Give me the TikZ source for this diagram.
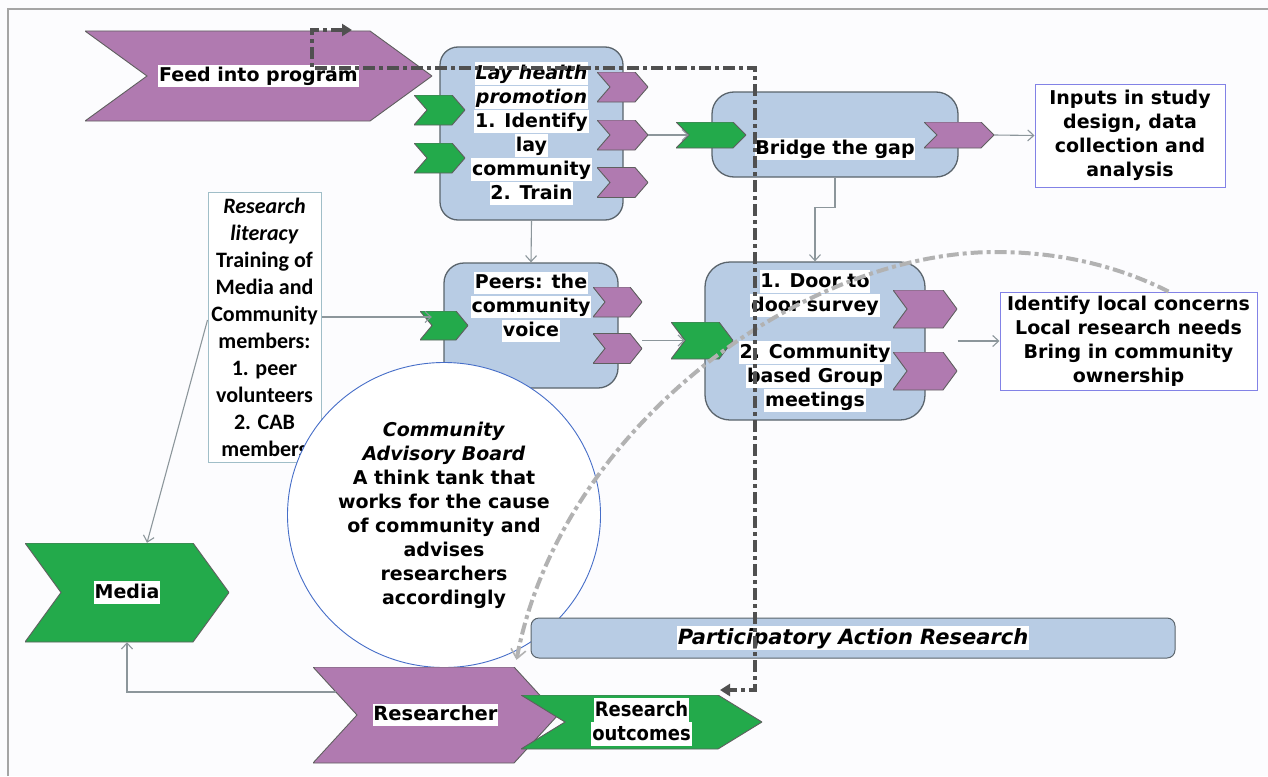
\documentclass[tikz,border=0pt]{standalone}
\usepackage{fontspec}
\setmainfont{DejaVu Sans}
\newfontfamily\calfont{Carlito}
\newfontfamily\condfont{DejaVu Sans Condensed}
\usetikzlibrary{arrows.meta,shapes.geometric}

\definecolor{bgc}{RGB}{252,252,254}
\definecolor{framec}{RGB}{165,165,165}
\definecolor{purp}{RGB}{176,122,176}
\definecolor{grn}{RGB}{35,170,75}
\definecolor{boxfill}{RGB}{184,204,228}
\definecolor{boxline}{RGB}{90,100,108}
\definecolor{chvedge}{RGB}{95,95,95}
\definecolor{arrgray}{RGB}{140,150,155}
\definecolor{dashdark}{RGB}{80,80,80}
\definecolor{curvegray}{RGB}{178,178,178}
\definecolor{wline}{RGB}{130,130,230}
\definecolor{litline}{RGB}{160,190,200}
\definecolor{cabblue}{RGB}{70,110,200}

% white band behind a line of text
\newcommand\hl[1]{{\setlength\fboxsep{0.8pt}\colorbox{white}{\rule[-.24em]{0pt}{1.08em}#1}}}
\newcommand\mfont{\fontsize{19}{24}\selectfont\bfseries}

\tikzset{
  chv fill/.store in=\chvfill, chv fill=purp,
  chv d/.store in=\chvd, chv d=12pt,
  chv/.style={rectangle, inner sep=0pt, font=\mfont, align=center,
    path picture={\filldraw[fill=\chvfill, draw=chvedge, line width=0.9pt]
      (path picture bounding box.north west)
      -- ([xshift=-\chvd]path picture bounding box.north east)
      -- (path picture bounding box.east)
      -- ([xshift=-\chvd]path picture bounding box.south east)
      -- (path picture bounding box.south west)
      -- ([xshift=\chvd]path picture bounding box.west) -- cycle;}},
  pbox/.style={draw=boxline, fill=boxfill, line width=1.3pt, inner sep=0pt,
    font=\mfont, align=center},
  wbox/.style={draw=wline, fill=white, line width=1pt, inner sep=0pt,
    font=\mfont, align=center},
  txt/.style={inner sep=0pt, font=\mfont, align=center},
  arr/.style={draw=arrgray, line width=1.1pt, -{Straight Barb[length=6pt,width=11pt]}},
  fbpath/.style={draw=dashdark, line width=4pt,
    dash pattern=on 12pt off 4pt on 4pt off 4pt,
    {Triangle[length=10pt,width=12pt]}-{Triangle[length=10pt,width=12pt]}},
  advpath/.style={draw=curvegray, line width=4pt,
    dash pattern=on 12pt off 4pt on 4pt off 4pt,
    -{Straight Barb[length=9pt,width=15pt,line width=1.6pt]}},
}

\begin{document}
\begin{tikzpicture}[x=1pt,y=-1pt]
\useasboundingbox (0,0) rectangle (1268,776);
\fill[bgc] (0,0) rectangle (1268,776);
\draw[framec, line width=2pt] (8,776) -- (8,9) -- (1268,9);

% input to the programme
\node[chv, chv fill=purp, chv d=62pt, minimum width=347, minimum height=90]
  (feed) at (258.5,76) {\hl{Feed into program}};

% lay health promotion
\node[pbox, rounded corners=18pt, minimum width=183, minimum height=173] (lay) at (531.5,133.5)
  {\hl{\textit{Lay health}}\\ \hl{\textit{promotion}}\\ \hl{1. Identify}\\ \hl{lay}\\ \hl{community}\\ \hl{2. Train}};
\node[chv, chv fill=grn, chv d=13pt, minimum width=51, minimum height=30] (lg1) at (439.5,110) {};
\node[chv, chv fill=grn, chv d=13pt, minimum width=51, minimum height=30] (lg2) at (439.5,158) {};
\node[chv, chv fill=purp, chv d=13pt, minimum width=51, minimum height=30] (lp1) at (622.5,87) {};
\node[chv, chv fill=purp, chv d=13pt, minimum width=51, minimum height=30] (lp2) at (622.5,135) {};
\node[chv, chv fill=purp, chv d=13pt, minimum width=51, minimum height=30] (lp3) at (622.5,182.5) {};

% bridge the gap
\node[pbox, rounded corners=22pt, minimum width=246, minimum height=85] (bridge) at (835,134.5) {};
\node[txt] (bridgetxt) at ([yshift=-14.5pt]bridge.center) {\hl{Bridge the gap}};
\node[chv, chv fill=grn, chv d=13pt, minimum width=70, minimum height=26] (bg) at (711,135) {};
\node[chv, chv fill=purp, chv d=13pt, minimum width=70, minimum height=26] (bp) at (959,135) {};

\node[wbox, minimum width=190, minimum height=103] (inputs) at (1130,135.5)
  {Inputs in study\\ design, data\\ collection and\\ analysis};

% research literacy
\node[draw=litline, fill=white, line width=1pt, inner sep=0pt, align=center,
  font={\calfont\fontsize{22}{27}\selectfont\bfseries},
  minimum width=113, minimum height=270] (lit) at (264.5,327)
  {\textit{Research}\\ \textit{literacy}\\ Training of\\ Media and\\ Community\\ members:\\ 1. peer\\ volunteers\\ 2. CAB\\ members};

% peers
\node[pbox, rounded corners=20pt, minimum width=174, minimum height=125] (peers) at (531,325.5) {};
\node[txt] (peerstxt) at ([yshift=18.5pt]peers.center) {\hl{Peers: the}\\ \hl{community}\\ \hl{voice}};
\node[chv, chv fill=grn, chv d=12pt, minimum width=48, minimum height=29] (pg) at (444,325.5) {};
\node[chv, chv fill=purp, chv d=12pt, minimum width=49, minimum height=30] (pp1) at (617.5,302) {};
\node[chv, chv fill=purp, chv d=12pt, minimum width=49, minimum height=30] (pp2) at (617.5,348.5) {};

% survey and meetings
\node[pbox, rounded corners=25pt, minimum width=220, minimum height=158] (door) at (815,341)
  {\hl{1. Door to}\\ \hl{door survey}\\[23pt] \hl{2. Community}\\ \hl{based Group}\\ \hl{meetings}};
\node[chv, chv fill=grn, chv d=14pt, minimum width=62, minimum height=37] (dg) at (702,340.5) {};
\node[chv, chv fill=purp, chv d=14pt, minimum width=64, minimum height=38] (dp1) at (925,309) {};
\node[chv, chv fill=purp, chv d=14pt, minimum width=64, minimum height=38] (dp2) at (925,371) {};

\node[wbox, minimum width=257, minimum height=98] (ident) at (1128.5,341)
  {Identify local concerns\\ Local research needs\\ Bring in community\\ ownership};

% community advisory board
\node[ellipse, draw=cabblue, fill=white, line width=0.9pt, inner sep=0pt, align=center,
  font=\mfont, minimum width=313, minimum height=305] (cab) at (444,515)
  {\textit{Community}\\ \textit{Advisory Board}\\ A think tank that\\ works for the cause\\ of community and\\ advises\\ researchers\\ accordingly};

\node[pbox, line width=1pt, rounded corners=8pt, minimum width=644, minimum height=40,
  font={\fontsize{21}{26}\selectfont\bfseries\itshape}] (par) at (853,638)
  {\hl{Participatory Action Research}};

% media, researcher and outcomes
\node[chv, chv fill=grn, chv d=36pt, minimum width=204, minimum height=99] (media) at (127,592.5) {\hl{Media}};
\node[chv, chv fill=purp, chv d=44pt, minimum width=245, minimum height=96,
  font={\fontsize{19.5}{24}\selectfont\bfseries}] (res) at (435.5,715) {\hl{Researcher}};
\node[chv, chv fill=grn, chv d=44pt, minimum width=241, minimum height=54,
  font={\condfont\fontsize{20}{24}\selectfont\bfseries}] (out) at (641.5,722)
  {\hl{Research}\\ \hl{outcomes}};

% connectors
\draw[arr] (lay.south) -- (peers.north);
\draw[arr] (lp2.east) -- ([xshift=13pt]bg.west);
\draw[arr] (bp.east) -- (inputs.west);
\draw[arr] (bridge.south) -- ++(0,30) -| (door.north);
\coordinate (lito) at ([yshift=10pt]lit.east);
\coordinate (pgn) at ([xshift=12pt]pg.west);
\draw[arr] (lito) -- (lito -| pgn);
\coordinate (dgn) at ([xshift=14pt]dg.west);
\draw[arr] (pp2.east |- dg.west) -- (dgn);
\draw[arr] ([xshift=32pt]door.east) -- (ident.west);
\draw[arr] ([yshift=7pt]lit.west) -- ([xshift=20pt]media.north);
\coordinate (resl) at ([xshift=23pt,yshift=23pt]res.west);
\draw[arr] (resl) -| (media.south);

% advice loop back to the researcher
\coordinate (advA) at ([xshift=40pt]ident.north);
\coordinate (advB) at ([xshift=81pt,yshift=7pt]res.north);
\draw[advpath] (advA) .. controls (1110,262) and (1050,252) .. (996,252)
  .. controls (800,252) and (560,430) .. (advB);

% feedback loop
\coordinate (fbA) at (352,30);
\coordinate (fbB) at (720,690);
\draw[fbpath] (fbA) -- (312,30) -- (312,68) -- (755,68) -- (755,690) -- (fbB);
\end{tikzpicture}
\end{document}
